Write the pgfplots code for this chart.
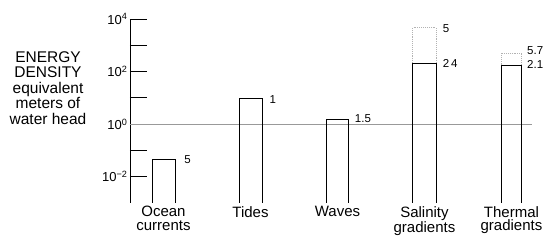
\documentclass[border=0pt]{standalone}
\usepackage{fontspec}
\setmainfont{Liberation Sans}
\usepackage{pgfplots}
\pgfplotsset{compat=1.18}
\begin{document}
\begin{tikzpicture}
\begin{axis}[
  name=ax,
  scale only axis,
  width=402pt, height=184pt,
  ymode=log, ymin=1e-3, ymax=1e4,
  xmin=-0.385, xmax=4.236,
  axis x line=bottom, axis y line=left,
  x axis line style={draw=none},
  y axis line style={-, line width=0.9pt},
  xtick={0,1,2,3,4},
  xticklabels={Ocean\\currents,Tides,Waves,Salinity\\gradients,Thermal\\gradients},
  major x tick style={draw=none},
  xticklabel style={align=center, anchor=north, yshift=0pt, font=\fontsize{15}{13.5}\selectfont},
  ytick={1e-2,1,1e2,1e4},
  yticklabels={10\textsuperscript{−2},10\textsuperscript{0},10\textsuperscript{2},10\textsuperscript{4}},
  minor ytick={1e-1,1e1,1e3},
  tick align=inside,
  major tick length=17pt, minor tick length=17pt,
  every tick/.style={black, line width=0.9pt},
  yticklabel style={font=\fontsize{13}{13}\selectfont, xshift=1pt},
  clip=false,
]
% 10^0 reference line
\addplot[gray!80, line width=0.5pt] coordinates {(-0.385,1) (4.236,1)};
% bars (open, no bottom edge)
\addplot[black, line width=0.9pt] coordinates {(-0.132,1e-3) (-0.132,0.044) (0.132,0.044) (0.132,1e-3)};
\addplot[black, line width=0.9pt] coordinates {(0.868,1e-3) (0.868,9.3) (1.132,9.3) (1.132,1e-3)};
\addplot[black, line width=0.9pt] coordinates {(1.875,1e-3) (1.875,1.45) (2.125,1.45) (2.125,1e-3)};
\addplot[black, line width=0.9pt] coordinates {(2.865,1e-3) (2.865,210) (3.135,210) (3.135,1e-3)};
\addplot[black, line width=0.9pt] coordinates {(3.88,1e-3) (3.88,172) (4.12,172) (4.12,1e-3)};
% dotted extensions
\addplot[gray!60, densely dotted, line width=0.9pt] coordinates {(2.865,210) (2.865,4600) (3.135,4600) (3.135,210)};
\addplot[gray!60, densely dotted, line width=0.9pt] coordinates {(3.88,172) (3.88,500) (4.12,500) (4.12,172)};
% value labels
\node[anchor=west, font=\fontsize{11.5}{11.5}\selectfont] at (axis cs:0.20,0.044) {5};
\node[anchor=west, font=\fontsize{11.5}{11.5}\selectfont] at (axis cs:1.18,8.5) {1};
\node[anchor=west, font=\fontsize{11.5}{11.5}\selectfont] at (axis cs:2.16,1.6) {1.5};
\node[anchor=west, font=\fontsize{11.5}{11.5}\selectfont] at (axis cs:3.17,200) {2\,4};
\node[anchor=west, font=\fontsize{11.5}{11.5}\selectfont] at (axis cs:3.17,4400) {5};
\node[anchor=west, font=\fontsize{11.5}{11.5}\selectfont] at (axis cs:4.14,620) {5.7};
\node[anchor=west, font=\fontsize{11.5}{11.5}\selectfont] at (axis cs:4.14,185) {2.1};
\end{axis}
% y-axis title block
\node[align=center, anchor=north, font=\fontsize{15.5}{15.5}\selectfont, inner sep=0pt]
  at ([xshift=-82pt,yshift=-32pt]ax.north west) {ENERGY\\DENSITY\\equivalent\\meters of\\water head};
\pgfresetboundingbox
\path ([xshift=-130pt,yshift=-39pt]ax.south west) rectangle ([xshift=21pt,yshift=19pt]ax.north east);
\end{tikzpicture}
\end{document}
